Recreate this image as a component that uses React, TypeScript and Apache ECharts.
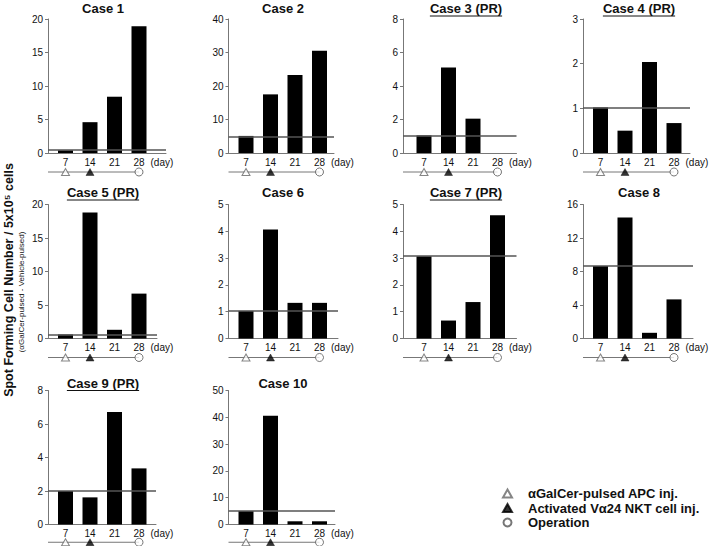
import React, { useEffect, useRef } from 'react';
import * as echarts from 'echarts';

// ---------- data ----------
const days = [7, 14, 21, 28];
const caseTitles = ['Case 1', 'Case 2', 'Case 3 (PR)', 'Case 4 (PR)', 'Case 5 (PR)', 'Case 6', 'Case 7 (PR)', 'Case 8', 'Case 9 (PR)', 'Case 10'];
const underlinedTitles = [false, false, true, true, true, false, true, false, true, false];

const case1 = [0.4, 4.6, 8.4, 18.9];
const case2 = [5.1, 17.5, 23.3, 30.5];
const case3 = [1.05, 5.1, 2.05, null];
const case4 = [1.02, 0.5, 2.04, 0.67];
const case5 = [0.6, 18.8, 1.3, 6.7];
const case6 = [1.03, 4.07, 1.33, 1.33];
const case7 = [3.07, 0.67, 1.36, 4.6];
const case8 = [8.66, 14.45, 0.68, 4.67];
const case9 = [2.0, 1.62, 6.72, 3.35];
const case10 = [5.0, 40.6, 1.2, 1.2];
const caseValues = [case1, case2, case3, case4, case5, case6, case7, case8, case9, case10];

const referenceValues = [0.5, 5.0, 1.05, 1.02, 0.5, 1.03, 3.07, 8.7, 2.0, 5.0];
const yMaxes = [20, 40, 8, 3, 20, 5, 5, 16, 8, 50];
const yIntervals = [5, 10, 2, 1, 5, 1, 1, 4, 2, 10];

const apcDays = [7];
const nktDays = [14];
const operationDays = [28];
const legendNames = ['αGalCer-pulsed APC inj.', 'Activated Vα24 NKT cell inj.', 'Operation'];

const yAxisTitle = 'Spot Forming Cell Number / 5x10⁵ cells';
const yAxisSubtitle = '(αGalCer-pulsed - Vehicle-pulsed)';
const dayUnit = '(day)';

// ---------- layout ----------
const FONT = '"Liberation Sans", Arial, Helvetica, sans-serif';
const PX_PER_DAY = 3.5;
const colLeft = [48, 228.5, 403, 583];
const colXMin = [2, 2, 1, 2];
const panelWidth = [118, 105.5, 113.5, 107, 109, 109.5, 113.5, 110, 108, 106.5];
const rowTop = [19, 204.5, 390.5];
const plotH = 134;
const titleY = [8.5, 192.5, 383];
const titleX = [103, 283, 466, 639];

export default function App() {
  const ref = useRef<HTMLDivElement>(null);

  useEffect(() => {
    document.body.style.margin = '0';
    if (!ref.current) return;
    const chart = echarts.init(ref.current, null, { renderer: 'svg' });

    const canvas = document.createElement('canvas');
    const ctx = canvas.getContext('2d')!;
    ctx.font = `bold 13px ${FONT}`;

    const grids: any[] = [];
    const xAxes: any[] = [];
    const yAxes: any[] = [];
    const series: any[] = [];
    const graphics: any[] = [];
    const lastEventDay = Math.max(...apcDays, ...nktDays, ...operationDays);

    caseValues.forEach((vals, i) => {
      const r = Math.floor(i / 4);
      const c = i % 4;
      const L = colLeft[c];
      const T = rowTop[r];
      const W = panelWidth[i];
      const xMin = colXMin[c];
      const xMax = xMin + W / PX_PER_DAY;
      const gMain = 2 * i;
      const gTime = 2 * i + 1;

      grids.push({ left: L, top: T, width: W, height: plotH });
      grids.push({ left: L, top: T + plotH + 14, width: W, height: 10 });

      xAxes.push({
        gridIndex: gMain,
        type: 'value',
        min: xMin,
        max: xMax,
        axisLine: { show: true, onZero: false, lineStyle: { color: '#777', width: 1 } },
        axisTick: { show: false },
        splitLine: { show: false },
        axisLabel: { customValues: days, margin: 4, fontSize: 10, color: '#111', fontFamily: FONT, formatter: (v: number) => String(v) },
        name: dayUnit,
        nameLocation: 'end',
        nameGap: 11.5 - (xMax - 28) * PX_PER_DAY,
        nameMoveOverlap: false,
        nameTextStyle: { fontSize: 10, color: '#111', fontFamily: FONT, verticalAlign: 'top', align: 'left', padding: [4, 0, 0, 0] },
      });
      xAxes.push({ gridIndex: gTime, type: 'value', min: xMin, max: xMax, show: false });

      yAxes.push({
        gridIndex: gMain,
        type: 'value',
        min: 0,
        max: yMaxes[i],
        interval: yIntervals[i],
        axisLine: { show: true, lineStyle: { color: '#777', width: 1 } },
        axisTick: { show: true, length: 3, lineStyle: { color: '#777' } },
        splitLine: { show: false },
        axisLabel: { fontSize: 10, margin: 5, color: '#111', fontFamily: FONT },
      });
      yAxes.push({ gridIndex: gTime, type: 'value', min: -1, max: 1, show: false });

      series.push({
        type: 'bar',
        xAxisIndex: gMain,
        yAxisIndex: gMain,
        barWidth: 15,
        itemStyle: { color: '#000' },
        data: days.map((d, k) => [d, vals[k]]).filter((p) => p[1] != null),
        markLine: {
          silent: true,
          symbol: 'none',
          label: { show: false },
          lineStyle: { color: '#555', width: 1.5, type: 'solid' },
          data: [{ yAxis: referenceValues[i] }],
        },
        z: 2,
      });

      series.push({
        type: 'line',
        xAxisIndex: gTime,
        yAxisIndex: gTime,
        symbol: 'none',
        lineStyle: { color: '#777', width: 1 },
        data: [[xMin, 0], [lastEventDay, 0]],
        z: 1,
      });
      series.push({
        type: 'scatter',
        name: legendNames[0],
        xAxisIndex: gTime,
        yAxisIndex: gTime,
        symbol: 'triangle',
        symbolSize: [8, 7],
        itemStyle: { color: '#fff', borderColor: '#666', borderWidth: 1 },
        data: apcDays.map((d) => [d, 0]),
        z: 3,
      });
      series.push({
        type: 'scatter',
        name: legendNames[1],
        xAxisIndex: gTime,
        yAxisIndex: gTime,
        symbol: 'triangle',
        symbolSize: [8, 7],
        itemStyle: { color: '#000', borderColor: '#000', borderWidth: 0.5 },
        data: nktDays.map((d) => [d, 0]),
        z: 3,
      });
      series.push({
        type: 'scatter',
        name: legendNames[2],
        xAxisIndex: gTime,
        yAxisIndex: gTime,
        symbol: 'circle',
        symbolSize: 8,
        itemStyle: { color: '#fff', borderColor: '#555', borderWidth: 1 },
        data: operationDays.map((d) => [d, 0]),
        z: 3,
      });

      const tx = titleX[c];
      const ty = titleY[r];
      graphics.push({
        type: 'text',
        x: tx,
        y: ty,
        style: { text: caseTitles[i], font: `bold 13px ${FONT}`, fill: '#111', align: 'center', verticalAlign: 'middle' },
      });
      if (underlinedTitles[i]) {
        const w = ctx.measureText(caseTitles[i]).width;
        graphics.push({
          type: 'line',
          shape: { x1: tx - w / 2, y1: ty + 7.5, x2: tx + w / 2, y2: ty + 7.5 },
          style: { stroke: '#111', lineWidth: 1 },
        });
      }
    });

    graphics.push({
      type: 'text',
      x: 9,
      y: 280,
      rotation: Math.PI / 2,
      style: { text: yAxisTitle, font: `bold 12.5px ${FONT}`, fill: '#111', align: 'center', verticalAlign: 'middle' },
    });
    graphics.push({
      type: 'text',
      x: 21,
      y: 292,
      rotation: Math.PI / 2,
      style: { text: yAxisSubtitle, font: `8px ${FONT}`, fill: '#111', align: 'center', verticalAlign: 'middle' },
    });

    chart.setOption({
      animation: false,
      textStyle: { fontFamily: FONT },
      grid: grids,
      xAxis: xAxes,
      yAxis: yAxes,
      series,
      graphic: graphics,
      legend: {
        orient: 'vertical',
        left: 497,
        top: 482,
        itemWidth: 9,
        itemHeight: 8,
        itemGap: 1.5,
        selectedMode: false,
        data: legendNames,
        textStyle: { fontSize: 13, fontWeight: 'bold', color: '#111', fontFamily: FONT, padding: [0, 0, 0, 11], lineHeight: 13 },
      },
    });

    return () => chart.dispose();
  }, []);

  return <div ref={ref} style={{ width: 710, height: 546 }} />;
}
